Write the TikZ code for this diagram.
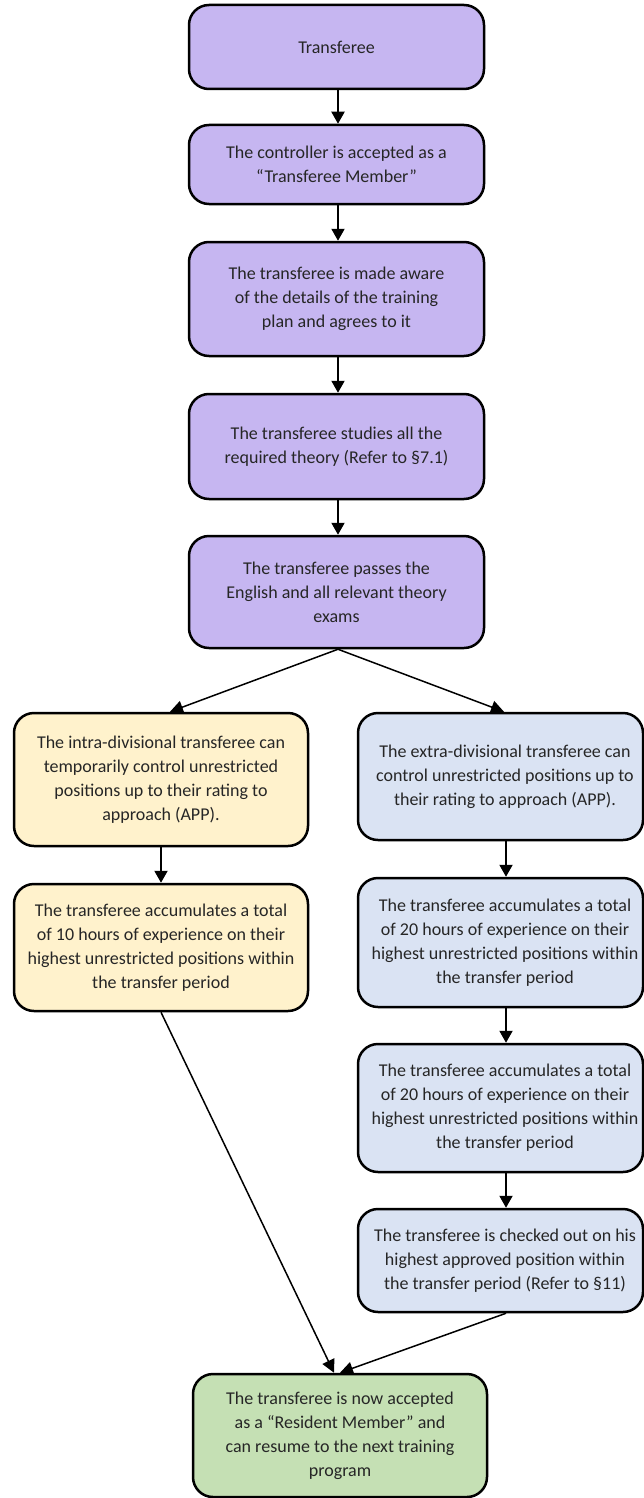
\documentclass[tikz,border=0pt]{standalone}
\usepackage{fontspec}
\setmainfont{Carlito}
\usetikzlibrary{arrows.meta}
\definecolor{purp}{HTML}{C6B6F1}
\definecolor{yel}{HTML}{FFF2CC}
\definecolor{blu}{HTML}{DAE3F3}
\definecolor{grn}{HTML}{C5E0B4}
\definecolor{txt}{HTML}{262626}
\begin{document}
\begin{tikzpicture}[x=1pt,y=-1pt,
  boxbase/.style={draw=black, line width=2.5pt, rounded corners=20pt, inner sep=0pt},
  box/.style={boxbase, align=center, font=\fontsize{18}{24}\selectfont, text=txt},
  btext/.style={align=center, font=\fontsize{18}{24}\selectfont, text=txt, inner sep=0pt},
  arr/.style={-{Triangle[width=13pt,length=12pt]}, line width=2pt},
  darr/.style={-{Triangle[width=13pt,length=13pt]}, line width=1.5pt}]
\useasboundingbox (0,0) rectangle (644,1498);

% purple column
\node[box, fill=purp, minimum width=295pt, minimum height=84pt] (p1) at (336.5,47) {Transferee};
\node[box, fill=purp, minimum width=295pt, minimum height=79pt] (p2) at (336.5,164.5) {The controller is accepted as a\\“Transferee Member”};
\node[box, fill=purp, minimum width=295pt, minimum height=114pt] (p3) at (336.5,299) {The transferee is made aware\\of the details of the training\\plan and agrees to it};
\node[box, fill=purp, minimum width=295pt, minimum height=105pt] (p4) at (336.5,446.5) {The transferee studies all the\\required theory (Refer to §7.1)};
\node[box, fill=purp, minimum width=295pt, minimum height=112pt] (p5) at (336.5,592) {The transferee passes the\\English and all relevant theory\\exams};

% yellow column
\node[box, fill=yel, minimum width=294pt, minimum height=133pt] (y1) at (161,779.5) {The intra-divisional transferee can\\temporarily control unrestricted\\positions up to their rating to\\approach (APP).};
\node[box, fill=yel, minimum width=294pt, minimum height=127pt] (y2) at (161,947.5) {The transferee accumulates a total\\of 10 hours of experience on their\\highest unrestricted positions within\\the transfer period};

% blue column
\node[boxbase, fill=blu, minimum width=285pt, minimum height=127pt] (b1) at (500.5,776.5) {};
\node[btext] (b1t) at (505,776.5) {The extra-divisional transferee can\\control unrestricted positions up to\\their rating to approach (APP).};
\node[boxbase, fill=blu, minimum width=285pt, minimum height=129pt] (b2) at (500.5,942.5) {};
\node[btext] (b2t) at (505,942.5) {The transferee accumulates a total\\of 20 hours of experience on their\\highest unrestricted positions within\\the transfer period};
\node[boxbase, fill=blu, minimum width=285pt, minimum height=128pt] (b3) at (500.5,1108) {};
\node[btext] (b3t) at (505,1108) {The transferee accumulates a total\\of 20 hours of experience on their\\highest unrestricted positions within\\the transfer period};
\node[boxbase, fill=blu, minimum width=285pt, minimum height=103pt] (b4) at (500.5,1260.5) {};
\node[btext] (b4t) at (505,1260.5) {The transferee is checked out on his\\highest approved position within\\the transfer period (Refer to §11)};

% green
\node[box, fill=grn, minimum width=294pt, minimum height=123pt] (g) at (340,1435.5) {The transferee is now accepted\\as a “Resident Member” and\\can resume to the next training\\program};

% connectors
\draw[arr] ([xshift=1.5pt]p1.south) -- ([xshift=1.5pt]p2.north);
\draw[arr] ([xshift=1.5pt]p2.south) -- ([xshift=1.5pt]p3.north);
\draw[arr] ([xshift=1.5pt]p3.south) -- ([xshift=1.5pt]p4.north);
\draw[arr] ([xshift=1.5pt]p4.south) -- ([xshift=1.5pt]p5.north);
\draw[darr] ([xshift=1.5pt]p5.south) -- ([xshift=9pt]y1.north);
\draw[darr] ([xshift=1.5pt]p5.south) -- ([xshift=3.5pt]b1.north);
\draw[arr] (y1.south) -- (y2.north);
\draw[arr] ([xshift=5.5pt]b1.south) -- ([xshift=5.5pt]b2.north);
\draw[arr] ([xshift=5.5pt]b2.south) -- ([xshift=5.5pt]b3.north);
\draw[arr] ([xshift=5.5pt]b3.south) -- ([xshift=5.5pt]b4.north);
\draw[darr] (y2.south) -- ([xshift=-6pt]g.north);
\draw[darr] ([xshift=5.5pt]b4.south) -- (g.north);
\end{tikzpicture}
\end{document}
